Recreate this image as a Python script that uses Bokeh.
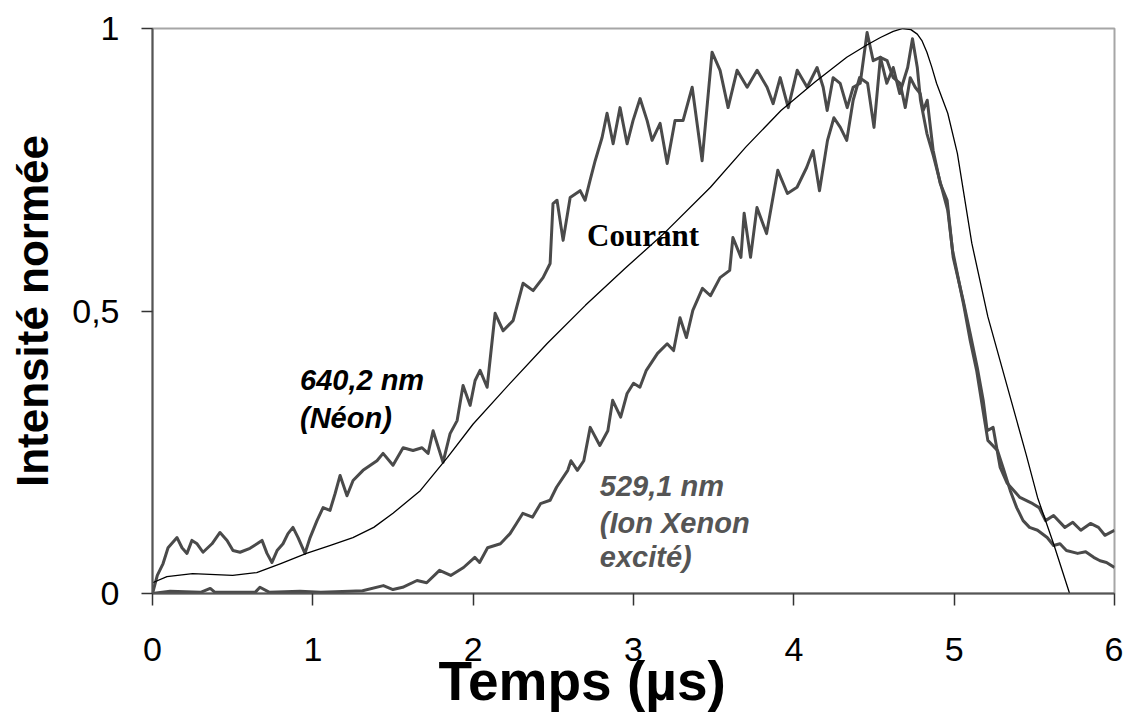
from bokeh.plotting import figure
from bokeh.models import Label, FixedTicker, Range1d, LinearAxis
from bokeh.embed import file_html
from bokeh.resources import INLINE

# ---- data ----
neon_x = [0.00, 0.03, 0.066, 0.097, 0.153, 0.184, 0.215, 0.246, 0.278, 0.315, 0.371, 0.421, 0.465, 0.502,
          0.546, 0.608, 0.652, 0.683, 0.714, 0.745, 0.777, 0.814, 0.845, 0.876, 0.908, 0.951, 0.983, 1.026,
          1.064, 1.107, 1.139, 1.170, 1.213, 1.251, 1.313, 1.400, 1.438, 1.500, 1.563, 1.625, 1.681, 1.719,
          1.750, 1.812, 1.856, 1.900, 1.937, 1.981, 2.012, 2.043, 2.087, 2.137, 2.187, 2.249, 2.311, 2.374,
          2.436, 2.480, 2.498, 2.523, 2.561, 2.605, 2.667, 2.698, 2.729, 2.761, 2.804, 2.835, 2.873, 2.916,
          2.960, 2.997, 3.041, 3.085, 3.116, 3.166, 3.210, 3.259, 3.309, 3.366, 3.428, 3.490, 3.540, 3.590,
          3.646, 3.709, 3.771, 3.833, 3.871, 3.915, 3.965, 4.021, 4.083, 4.145, 4.183, 4.208, 4.245, 4.289,
          4.333, 4.370, 4.414, 4.457, 4.495, 4.539, 4.582, 4.620, 4.663, 4.695, 4.726, 4.757, 4.788, 4.807,
          4.832, 4.869, 4.913, 4.956, 4.994, 5.056, 5.100, 5.144, 5.181, 5.206, 5.243, 5.287, 5.331, 5.410,
          5.490, 5.530, 5.570, 5.620, 5.690, 5.740, 5.790, 5.850, 5.900, 5.940, 6.000]
neon_y = [0.000, 0.032, 0.053, 0.081, 0.099, 0.081, 0.071, 0.094, 0.088, 0.073, 0.088, 0.108, 0.094, 0.076,
          0.073, 0.080, 0.088, 0.094, 0.071, 0.055, 0.076, 0.088, 0.106, 0.117, 0.099, 0.071, 0.099, 0.129,
          0.152, 0.147, 0.177, 0.209, 0.173, 0.200, 0.218, 0.235, 0.248, 0.227, 0.258, 0.253, 0.258, 0.248,
          0.288, 0.232, 0.283, 0.306, 0.368, 0.333, 0.377, 0.395, 0.365, 0.496, 0.465, 0.483, 0.549, 0.536,
          0.559, 0.584, 0.690, 0.696, 0.625, 0.701, 0.713, 0.696, 0.731, 0.766, 0.807, 0.850, 0.796, 0.860,
          0.796, 0.837, 0.876, 0.837, 0.802, 0.832, 0.761, 0.837, 0.837, 0.896, 0.766, 0.958, 0.926, 0.860,
          0.926, 0.896, 0.926, 0.896, 0.867, 0.913, 0.860, 0.926, 0.896, 0.931, 0.896, 0.855, 0.913, 0.903,
          0.860, 0.896, 0.903, 0.993, 0.943, 0.949, 0.943, 0.913, 0.903, 0.860, 0.913, 0.896, 0.885, 0.855,
          0.873, 0.784, 0.726, 0.696, 0.595, 0.519, 0.460, 0.400, 0.342, 0.288, 0.294, 0.223, 0.195, 0.170,
          0.159, 0.152, 0.129, 0.138, 0.117, 0.126, 0.112, 0.124, 0.117, 0.103, 0.112]

xenon_x = [0.00, 0.11, 0.30, 0.36, 0.39, 0.64, 0.67, 0.73, 0.92, 1.05, 1.23, 1.31, 1.44, 1.50, 1.56, 1.65,
           1.71, 1.79, 1.86, 1.94, 2.01, 2.04, 2.09, 2.17, 2.23, 2.27, 2.31, 2.37, 2.42, 2.48, 2.52, 2.59,
           2.61, 2.65, 2.69, 2.73, 2.79, 2.84, 2.87, 2.92, 2.96, 3.00, 3.04, 3.08, 3.15, 3.21, 3.25, 3.29,
           3.33, 3.37, 3.43, 3.48, 3.54, 3.60, 3.62, 3.67, 3.69, 3.73, 3.77, 3.83, 3.90, 3.96, 4.02, 4.08,
           4.12, 4.16, 4.21, 4.25, 4.29, 4.33, 4.37, 4.41, 4.46, 4.50, 4.54, 4.58, 4.62, 4.66, 4.71, 4.74,
           4.77, 4.79, 4.83, 4.87, 4.91, 4.96, 4.99, 5.06, 5.10, 5.14, 5.18, 5.21, 5.27, 5.31, 5.35, 5.39,
           5.43, 5.47, 5.52, 5.58, 5.62, 5.66, 5.70, 5.77, 5.82, 5.87, 5.91, 5.95, 6.00]
xenon_y = [0.000, 0.004, 0.002, 0.009, 0.002, 0.002, 0.011, 0.002, 0.004, 0.002, 0.004, 0.005, 0.014, 0.007,
           0.011, 0.023, 0.019, 0.041, 0.032, 0.046, 0.064, 0.055, 0.081, 0.088, 0.106, 0.124, 0.142, 0.135,
           0.159, 0.165, 0.188, 0.218, 0.235, 0.218, 0.235, 0.294, 0.262, 0.288, 0.342, 0.312, 0.354, 0.372,
           0.365, 0.395, 0.425, 0.442, 0.430, 0.488, 0.453, 0.501, 0.540, 0.527, 0.559, 0.572, 0.630, 0.595,
           0.673, 0.595, 0.683, 0.637, 0.749, 0.708, 0.719, 0.754, 0.784, 0.713, 0.802, 0.842, 0.825, 0.802,
           0.873, 0.913, 0.903, 0.825, 0.949, 0.903, 0.931, 0.885, 0.931, 0.982, 0.931, 0.873, 0.814, 0.775,
           0.731, 0.678, 0.607, 0.510, 0.448, 0.395, 0.324, 0.271, 0.253, 0.218, 0.182, 0.152, 0.129, 0.117,
           0.112, 0.099, 0.085, 0.088, 0.076, 0.071, 0.074, 0.064, 0.058, 0.055, 0.046]

courant_x = [0.00, 0.09, 0.25, 0.50, 0.65, 0.80, 0.96, 1.11, 1.25, 1.38, 1.50, 1.67, 1.84, 2.00, 2.23, 2.46,
             2.70, 2.95, 3.20, 3.48, 3.70, 3.92, 4.13, 4.33, 4.45, 4.54, 4.62, 4.68, 4.73, 4.77, 4.80, 4.83,
             4.86, 4.89, 4.96, 5.02, 5.11, 5.21, 5.35, 5.45, 5.52, 5.62, 5.72]
courant_y = [0.019, 0.030, 0.035, 0.032, 0.037, 0.053, 0.071, 0.085, 0.099, 0.117, 0.142, 0.182, 0.241, 0.300,
             0.372, 0.442, 0.510, 0.576, 0.640, 0.719, 0.790, 0.855, 0.905, 0.949, 0.970, 0.984, 0.995, 1.000,
             0.998, 0.990, 0.978, 0.958, 0.932, 0.903, 0.850, 0.779, 0.620, 0.490, 0.347, 0.245, 0.170, 0.088,
             0.000]

x_ticks = [0, 1, 2, 3, 4, 5, 6]
x_tick_labels = ["0", "1", "2", "3", "4", "5", "6"]
y_ticks = [0, 0.5, 1]
y_tick_labels = ["0", "0,5", "1"]

x_title = "Temps (µs)"
y_title = "Intensité normée"

# ---- figure ----
p = figure(frame_width=962, frame_height=565, x_range=Range1d(0, 6), y_range=Range1d(0, 1),
           output_backend="svg", toolbar_location=None,
           min_border_left=152, min_border_right=9, min_border_top=28, min_border_bottom=0)
p.background_fill_color = "white"
p.border_fill_color = "white"
p.outline_line_color = "#a6a6a6"
p.outline_line_width = 2
p.grid.visible = False

FONT = "Liberation Sans"

p.xaxis.ticker = FixedTicker(ticks=x_ticks)
p.xaxis.major_label_overrides = {t: l for t, l in zip(x_ticks, x_tick_labels)}
p.yaxis.ticker = FixedTicker(ticks=y_ticks)
p.yaxis.major_label_overrides = {t: l for t, l in zip(y_ticks, y_tick_labels)}

for ax in (p.xaxis, p.yaxis):
    ax.axis_line_color = "#555555"
    ax.axis_line_width = 2
    ax.major_tick_line_color = "#333333"
    ax.major_tick_line_width = 1.5
    ax.major_tick_in = 0
    ax.minor_tick_line_color = None
    ax.major_label_text_font = FONT
    ax.major_label_text_font_size = "34px"
    ax.major_label_text_color = "black"

p.xaxis.major_tick_out = 12
p.yaxis.major_tick_out = 11
p.xaxis.major_label_standoff = 32
p.yaxis.major_label_standoff = 22

p.yaxis.axis_label = y_title
p.yaxis.axis_label_text_font = FONT
p.yaxis.axis_label_text_font_style = "bold"
p.yaxis.axis_label_text_color = "black"
p.yaxis.axis_label_text_font_size = "44px"
p.yaxis.axis_label_standoff = 12

# x title: drawn by a bare second axis so it can sit left of the frame centre, as in the reference
title_pos = 2.68
title_axis = LinearAxis(ticker=FixedTicker(ticks=[title_pos]),
                        major_label_overrides={title_pos: x_title},
                        axis_line_color=None, major_tick_line_color=None, minor_tick_line_color=None,
                        major_tick_in=0, major_tick_out=0, major_label_standoff=-14,
                        major_label_text_font=FONT, major_label_text_font_style="bold",
                        major_label_text_font_size="55px", major_label_text_color="black")
p.add_layout(title_axis, "below")

# ---- curves ----
p.line(neon_x, neon_y, line_color="#4a4a4a", line_width=3, line_join="round")
p.line(xenon_x, xenon_y, line_color="#4a4a4a", line_width=3, line_join="round")
p.line(courant_x, courant_y, line_color="black", line_width=1.3, line_join="round")

# ---- annotations ----
lab_style = dict(text_font=FONT, text_font_style="bold italic", text_font_size="29px",
                 text_baseline="alphabetic", text_align="left")
p.add_layout(Label(x=0.92, y=0.377, text="640,2 nm", text_color="black", **lab_style))
p.add_layout(Label(x=0.92, y=0.311, text="(Néon)", text_color="black", **lab_style))
p.add_layout(Label(x=2.79, y=0.191, text="529,1 nm", text_color="#555555", **lab_style))
p.add_layout(Label(x=2.79, y=0.124, text="(Ion Xenon", text_color="#555555", **lab_style))
p.add_layout(Label(x=2.79, y=0.064, text="excité)", text_color="#555555", **lab_style))
p.add_layout(Label(x=2.71, y=0.634, text="Courant", text_color="black",
                   text_font="Liberation Serif", text_font_style="bold", text_font_size="31px",
                   text_baseline="alphabetic", text_align="left"))

open("out.html", "w").write(file_html(p, INLINE))
